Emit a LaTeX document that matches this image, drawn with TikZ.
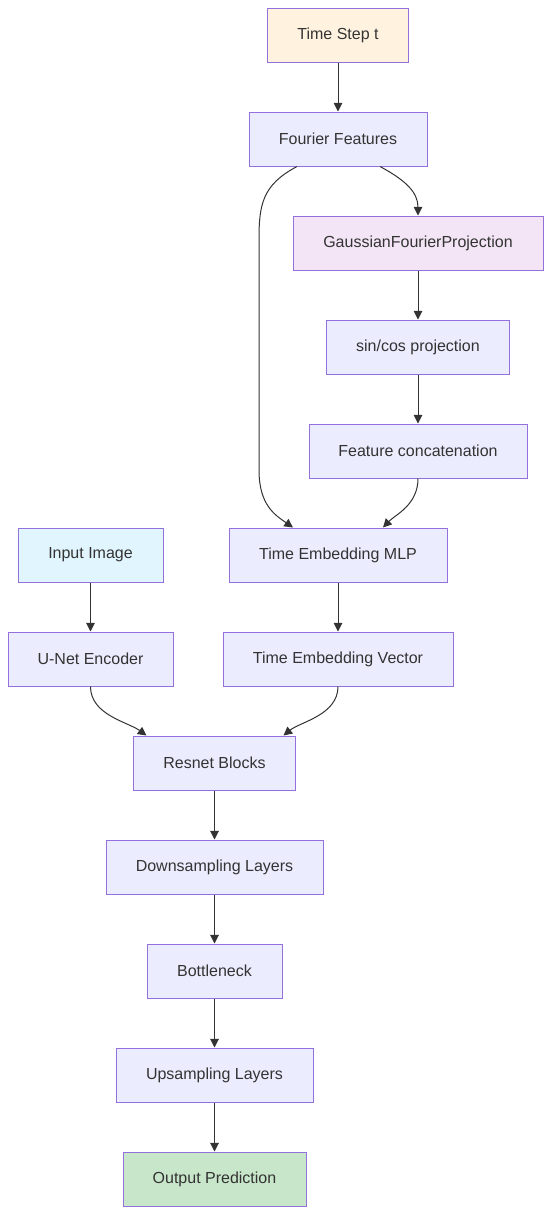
\documentclass[tikz,border=0pt]{standalone}
\usepackage{fontspec}
\setmainfont{Liberation Sans}
\usepackage{xcolor}
\usetikzlibrary{arrows.meta}
\definecolor{blkline}{HTML}{9370DB}
\definecolor{blkfill}{HTML}{ECECFF}
\definecolor{txt}{HTML}{333333}
\definecolor{timefill}{HTML}{FFF3E0}
\definecolor{projfill}{HTML}{F3E5F5}
\definecolor{imgfill}{HTML}{E1F5FE}
\definecolor{outfill}{HTML}{C8E6C9}
\tikzset{>={Triangle[length=6.5pt,width=6.5pt]}}

\begin{document}
\begin{tikzpicture}[x=0.75pt, y=-0.75pt, line width=0.75pt,
                    font=\fontsize{12}{14}\selectfont]

  \tikzset{blk/.style={draw=blkline, fill=blkfill, text=txt,
                       minimum height=40.5pt, inner sep=0pt},
           link/.style={draw=txt, ->}}

  \useasboundingbox (0,0) rectangle (551,1214);

  % time branch
  \node[blk, fill=timefill, minimum width=105.75pt] (ts)  at (338,35)    {Time Step t};
  \node[blk, minimum width=133.5pt]                 (ff)  at (338,139)   {Fourier Features};
  \node[blk, fill=projfill, minimum width=187.5pt]  (gfp) at (418,243)   {GaussianFourierProjection};
  \node[blk, minimum width=137.25pt]                (sc)  at (418,347)   {sin/cos projection};
  \node[blk, minimum width=163.5pt]                 (fc)  at (418,451)   {Feature concatenation};
  \node[blk, minimum width=163.5pt]                 (mlp) at (338,555)   {Time Embedding MLP};
  \node[blk, minimum width=172.5pt]                 (vec) at (338,659)   {Time Embedding Vector};

  % image branch
  \node[blk, fill=imgfill, minimum width=108.75pt]  (img) at (90.5,555)  {Input Image};
  \node[blk, minimum width=123.75pt]                (enc) at (90.5,659)  {U-Net Encoder};

  % network
  \node[blk, minimum width=121.5pt]                 (res) at (214.5,763) {Resnet Blocks};
  \node[blk, minimum width=162.75pt]                (dwn) at (214.5,867) {Downsampling Layers};
  \node[blk, minimum width=101.25pt]                (bot) at (214.5,971) {Bottleneck};
  \node[blk, minimum width=147.75pt]                (up)  at (214.5,1075) {Upsampling Layers};
  \node[blk, fill=outfill, minimum width=137.25pt]  (out) at (214.5,1179) {Output Prediction};

  % connectors
  \draw[link] (ts) -- (ff);
  \draw[link] ([xshift=31.5pt]ff.south) .. controls (405,180) and (418,192) .. (gfp.north);
  \draw[link] ([xshift=-30.75pt]ff.south) .. controls (262,185) and (259,205) .. (259,240)
              -- (259,470) .. controls (259,505) and (275,515) .. ([xshift=-33.75pt]mlp.north);
  \draw[link] (gfp) -- (sc);
  \draw[link] (sc) -- (fc);
  \draw[link] (fc.south) .. controls (418,505) and (395,515) .. ([xshift=33.75pt]mlp.north);
  \draw[link] (mlp) -- (vec);
  \draw[link] (img) -- (enc);
  \draw[link] (enc.south) .. controls (90.5,715) and (128,722) .. ([xshift=-51pt]res.north);
  \draw[link] (vec.south) .. controls (338,715) and (300,722) .. ([xshift=51.75pt]res.north);
  \draw[link] (res) -- (dwn);
  \draw[link] (dwn) -- (bot);
  \draw[link] (bot) -- (up);
  \draw[link] (up) -- (out);

\end{tikzpicture}
\end{document}
